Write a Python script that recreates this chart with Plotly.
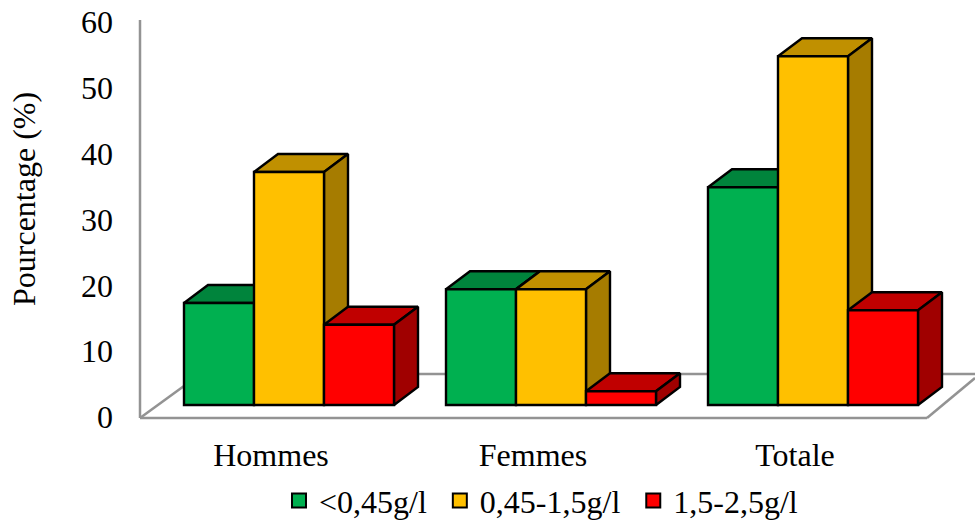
import plotly.graph_objects as go

categories = ["Hommes", "Femmes", "Totale"]
series_names = ["<0,45g/l", "0,45-1,5g/l", "1,5-2,5g/l"]
low_values = [15.5, 17.6, 33.1]
mid_values = [35.4, 17.6, 53.0]
high_values = [12.2, 2.1, 14.4]
y_ticks = [0, 10, 20, 30, 40, 50, 60]

front_colors = ["#00B050", "#FFC000", "#FF0000"]
top_colors = ["#00843C", "#C09000", "#C00000"]
side_colors = ["#006A30", "#A67C00", "#A00000"]
all_values = [low_values, mid_values, high_values]

W, H = 975, 520
PITCH = 262.0            # px between category groups
X0 = 271.0               # px of first category label
PX_PER_UNIT = 6.58       # px per percentage point
BASE_PX = 405.0          # px of bars' base
ZERO_PX = 417.0          # px of the value axis zero
BAR_W = 70.0 / PITCH
SHIFT = 18.0 / PITCH     # bars sit behind the label plane
DX = 24.0 / PITCH        # 3-D depth
DY = 18.0 / PX_PER_UNIT

FONT = "Liberation Serif"
INK = "#000000"
WALL = "#939393"
LW = 2.4

fig = go.Figure()

for j, (name, vals) in enumerate(zip(series_names, all_values)):
    xs = [i + SHIFT + (j - 1) * BAR_W for i in range(len(categories))]
    for x, v in zip(xs, vals):
        l, r = x - BAR_W / 2, x + BAR_W / 2
        fig.add_trace(go.Scatter(
            x=[l, r, r + DX, l + DX, l], y=[v, v, v + DY, v + DY, v],
            mode="lines", fill="toself", fillcolor=top_colors[j],
            line=dict(color=INK, width=LW), showlegend=False, hoverinfo="skip",
            zorder=2 * j))
        fig.add_trace(go.Scatter(
            x=[r, r + DX, r + DX, r, r], y=[0, DY, v + DY, v, 0],
            mode="lines", fill="toself", fillcolor=side_colors[j],
            line=dict(color=INK, width=LW), showlegend=False, hoverinfo="skip",
            zorder=2 * j))
    fig.add_trace(go.Bar(
        x=xs, y=vals, width=BAR_W, name=name, showlegend=False,
        marker=dict(color=front_colors[j], line=dict(color=INK, width=LW)),
        zorder=2 * j + 1))
    fig.add_trace(go.Scatter(
        x=[None], y=[None], mode="markers", name=name + "\u00a0",
        marker=dict(symbol="square", size=14, color=front_colors[j],
                    line=dict(color=INK, width=2))))

# hidden trace so the printed value axis exists
fig.add_trace(go.Scatter(x=[0], y=[0], yaxis="y2", mode="markers",
                         marker=dict(opacity=0), showlegend=False, hoverinfo="skip"))

def px_x(p):
    return (p - X0) / PITCH

def val_y2(p):
    return (ZERO_PX - p) / PX_PER_UNIT

wall_lines = [
    ((140, 20), (140, 418)),
    ((140, 418), (927, 418)),
    ((140, 418), (184, 386)),
    ((927, 418), (975, 378)),
    ((918, 374), (975, 374)),
    ((656, 374), (708, 374)),
    ((394, 374), (446, 374)),
]
shapes = [dict(type="line", xref="x", yref="y2", layer="below",
               x0=px_x(a[0]), y0=val_y2(a[1]), x1=px_x(b[0]), y1=val_y2(b[1]),
               line=dict(color=WALL, width=2.5))
          for a, b in wall_lines]

fig.update_layout(
    width=W, height=H,
    margin=dict(l=0, r=0, t=0, b=0, autoexpand=False),
    paper_bgcolor="#FFFFFF", plot_bgcolor="#FFFFFF",
    barmode="overlay",
    font=dict(family=FONT, color=INK, size=32),
    shapes=shapes,
    showlegend=True,
    legend=dict(orientation="h", x=279 / W, xanchor="left", y=-0.016, yanchor="bottom",
                font=dict(family=FONT, size=32, color=INK),
                itemwidth=30, bgcolor="rgba(0,0,0,0)"),
    xaxis=dict(range=[px_x(0), px_x(W)], domain=[0, 1],
               tickmode="array", tickvals=list(range(len(categories))), ticktext=categories,
               tickfont=dict(family=FONT, size=32, color=INK),
               showgrid=False, zeroline=False, showline=False, ticks="",
               anchor="free", position=(H - 433) / H),
    yaxis=dict(range=[(BASE_PX - H) / PX_PER_UNIT, BASE_PX / PX_PER_UNIT], domain=[0, 1],
               visible=False),
    yaxis2=dict(range=[(ZERO_PX - H) / PX_PER_UNIT, ZERO_PX / PX_PER_UNIT], domain=[0, 1],
                overlaying="y", side="left", anchor="free", position=113 / W,
                tickmode="array", tickvals=y_ticks,
                tickfont=dict(family=FONT, size=32, color=INK),
                showgrid=False, zeroline=False, showline=False, ticks=""),
    annotations=[dict(text="Pourcentage (%)", xref="paper", yref="paper",
                      x=24 / W, y=1 - 199 / H, xanchor="center", yanchor="middle",
                      textangle=-90, showarrow=False,
                      font=dict(family=FONT, size=32, color=INK))],
)

fig.write_html("out.html", post_script="document.body.style.margin='0';",
               config=dict(displayModeBar=False))
